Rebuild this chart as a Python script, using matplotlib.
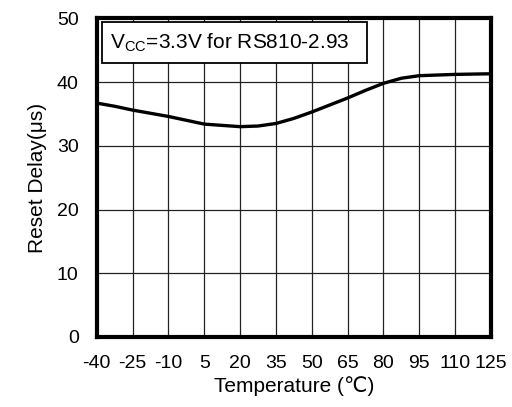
import matplotlib
matplotlib.use("Agg")
import matplotlib.pyplot as plt
from matplotlib.patches import Rectangle

plt.rcParams['font.family'] = ['Liberation Sans', 'DejaVu Sans']
plt.rcParams['mathtext.fontset'] = 'custom'
plt.rcParams['mathtext.rm'] = 'Liberation Sans'
plt.rcParams['axes.unicode_minus'] = False

# temperature (C) and reset delay (us)
temps = [-40, -32.5, -25, -17.5, -10, -2.5, 5, 12.5, 20, 27.5, 35, 42.5,
         50, 57.5, 65, 72.5, 80, 87.5, 95, 110, 125]
delay = [36.7, 36.2, 35.6, 35.1, 34.6, 34.0, 33.4, 33.2, 33.0, 33.1, 33.5, 34.3,
         35.3, 36.4, 37.5, 38.7, 39.8, 40.6, 41.0, 41.2, 41.3]

x_ticks = [-40, -25, -10, 5, 20, 35, 50, 65, 80, 95, 110, 125]
y_ticks = [0, 10, 20, 30, 40, 50]

fig = plt.figure(figsize=(5.12, 4.07), dpi=100)
ax = fig.add_axes([0.189, 0.172, 0.770, 0.783])

ax.plot(temps, delay, color='black', linewidth=2.4, zorder=3)

ax.set_xlim(-40, 125)
ax.set_ylim(0, 50)
ax.set_xticks(x_ticks)
ax.set_yticks(y_ticks)
ax.tick_params(length=0, labelsize=14)
ax.tick_params(axis='x', pad=13)
ax.tick_params(axis='y', pad=13)
ax.grid(True, color='#222222', linewidth=0.9)
for s in ax.spines.values():
    s.set_linewidth(3)

ax.set_xlabel('Temperature (℃)', fontsize=15, labelpad=3)
ax.set_ylabel('Reset Delay(μs)', fontsize=15, labelpad=7)

ax.add_patch(Rectangle((0.013, 0.859), 0.672, 0.131, transform=ax.transAxes,
                       facecolor='white', edgecolor='black', linewidth=1.3, zorder=4))
ax.text(0.033, 0.925, r'V$_{\mathrm{CC}}$=3.3V for RS810-2.93', transform=ax.transAxes,
        fontsize=15, va='center', ha='left', zorder=5)

fig.savefig('out.png', dpi=100)
